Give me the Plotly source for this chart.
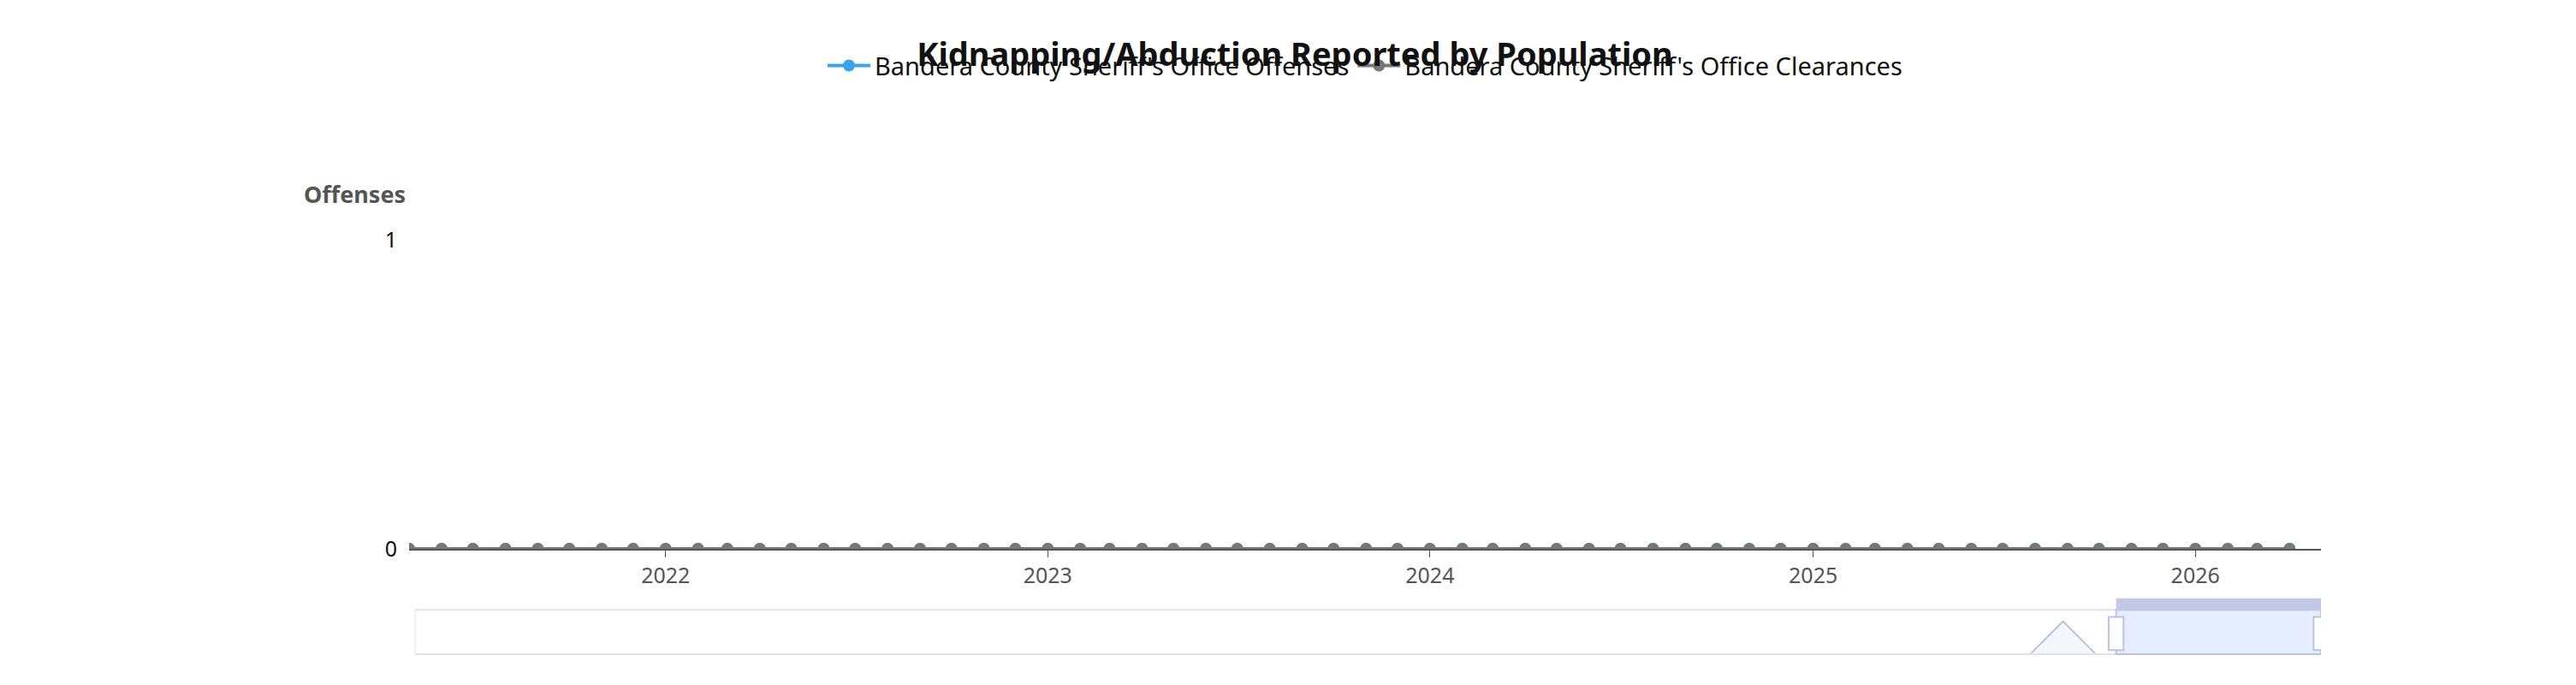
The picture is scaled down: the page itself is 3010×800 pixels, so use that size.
import pandas as pd
import plotly.graph_objects as go

# monthly data, May 2021 - Apr 2026
months = pd.date_range('2021-05-01', '2026-04-01', freq='MS')
offenses = [0] * 60
clearances = [0] * 60
# overview strip under the chart
nav_values = [0] * 51 + [1] + [0] * 8

font = 'Noto Sans, Open Sans, sans-serif'
fig = go.Figure()
fig.add_trace(go.Scatter(x=months, y=offenses, mode='lines+markers',
                         name="Bandera County Sheriff's Office Offenses",
                         line=dict(color='#3ba3e8', width=4), marker=dict(size=14)))
fig.add_trace(go.Scatter(x=months, y=clearances, mode='lines+markers',
                         name="Bandera County Sheriff's Office Clearances",
                         line=dict(color='#777777', width=4), marker=dict(size=14)))
fig.add_trace(go.Scatter(x=months, y=nav_values, mode='lines', xaxis='x2', yaxis='y2',
                         line=dict(color='#a8b6e0', width=1.5), fill='tozeroy',
                         fillcolor='rgba(244,245,251,0.9)', showlegend=False, hoverinfo='skip'))

fig.update_layout(
    width=3010, height=800, plot_bgcolor='white', paper_bgcolor='white',
    margin=dict(l=470, r=306, t=272, b=44),
    font=dict(family=font, size=25, color='#333'),
    title=dict(text='<b>Kidnapping/Abduction Reported by Population</b>', x=0.5, y=0.93,
               xanchor='center', yanchor='middle', font=dict(size=38, color='#111')),
    legend=dict(orientation='h', x=0.5, xanchor='center', y=1.42, yanchor='middle',
                font=dict(size=29, color='#111'), itemwidth=50),
    xaxis=dict(type='date', range=['2021-05-01', '2026-05-01'], dtick='M12', tick0='2022-01-01',
               tickformat='%Y', showgrid=False, showline=True, linecolor='#555', linewidth=2,
               ticks='outside', ticklen=8, tickcolor='#555', tickfont=dict(color='#555'),
               anchor='y', zeroline=False),
    yaxis=dict(domain=[0.254, 1], range=[0, 1], dtick=1, gridcolor='#dfe2ea', gridwidth=2,
               zeroline=False, tickfont=dict(color='#111'), ticksuffix='  '),
    xaxis2=dict(domain=[0.003, 1], anchor='y2', type='date', range=['2021-05-01', '2026-04-01'],
                visible=False),
    yaxis2=dict(domain=[0, 0.095], range=[0, 1.2], visible=False),
)
fig.add_annotation(text='<b>Offenses</b>', xref='paper', yref='paper', x=-0.056, y=1.11,
                   xanchor='left', yanchor='middle', showarrow=False,
                   font=dict(size=27, color='#555'))
# overview frame and selected window
fig.add_shape(type='rect', xref='x2', yref='paper', x0='2021-05-01', x1='2026-04-01',
              y0=0, y1=0.107, line=dict(color='#dde1f0', width=2))
fig.add_shape(type='rect', xref='x2', yref='paper', x0='2025-09-20', x1='2026-04-01',
              y0=0, y1=0.107, fillcolor='rgba(210,222,250,0.55)', line=dict(color='#b8c4e6', width=2))
fig.add_shape(type='rect', xref='x2', yref='paper', x0='2025-09-20', x1='2026-04-01',
              y0=0.107, y1=0.135, fillcolor='#c2c9e6', line=dict(width=0))
for d in ['2025-09-20', '2026-04-01']:
    fig.add_shape(type='rect', xref='x2', yref='paper',
                  x0=pd.Timestamp(d) - pd.Timedelta(days=7), x1=pd.Timestamp(d) + pd.Timedelta(days=7),
                  y0=0.01, y1=0.09, fillcolor='white', line=dict(color='#b8c4e6', width=2))
fig.write_html('out.html')
